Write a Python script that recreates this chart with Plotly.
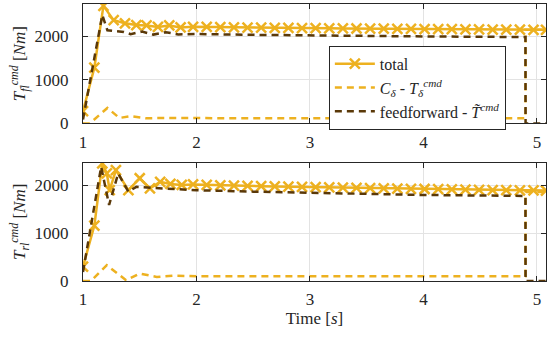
import plotly.graph_objects as go

# ---------------- data ----------------
# front-left (top panel)
t_tot_fl = [1.00, 1.10, 1.18, 1.27, 1.37, 1.47, 1.56, 1.66, 1.76, 1.86, 1.97, 2.09, 2.21, 2.33,
            2.45, 2.57, 2.69, 2.81, 2.93, 3.05, 3.17, 3.29, 3.41, 3.53, 3.65, 3.77, 3.89, 4.01,
            4.13, 4.25, 4.37, 4.49, 4.61, 4.73, 4.85, 4.97, 5.08]
total_fl = [280, 1280, 2700, 2370, 2300, 2260, 2250, 2215, 2250, 2205, 2220, 2215, 2210, 2205,
            2200, 2198, 2195, 2192, 2190, 2188, 2185, 2182, 2180, 2178, 2175, 2172, 2170, 2168,
            2165, 2163, 2160, 2158, 2156, 2154, 2152, 2150, 2150]
t_cd_fl = [1.00, 1.06, 1.215, 1.32, 1.42, 1.55, 1.70, 1.90, 2.20, 3.00, 4.00, 4.899, 4.90, 5.08]
cdelta_fl = [0, 0, 355, 125, 165, 118, 125, 120, 120, 118, 118, 118, 2150, 2150]
t_ff_fl = [1.00, 1.17, 1.215, 1.29, 1.36, 1.42, 1.52, 1.62, 1.73, 1.84, 2.00, 2.50, 3.20, 4.00,
           4.899, 4.90, 5.08]
ff_fl = [90, 2490, 2140, 2125, 2100, 2050, 2110, 2040, 2095, 2045, 2053, 2035, 2014, 1998,
         1984, 0, 0]

# rear-left (bottom panel)
t_tot_rl = [1.00, 1.10, 1.17, 1.21, 1.235, 1.29, 1.40, 1.50, 1.59, 1.68, 1.77, 1.87, 1.97, 2.09,
            2.21, 2.33, 2.45, 2.57, 2.69, 2.81, 2.93, 3.05, 3.17, 3.29, 3.41, 3.53, 3.65, 3.77,
            3.89, 4.01, 4.13, 4.25, 4.37, 4.49, 4.61, 4.73, 4.85, 4.97, 5.08]
total_rl = [300, 1160, 2460, 2250, 1900, 2320, 1900, 2150, 1940, 2075, 2030, 2010, 2020, 2010,
            2000, 1995, 1990, 1985, 1980, 1975, 1970, 1965, 1960, 1955, 1950, 1945, 1940, 1935,
            1930, 1925, 1920, 1915, 1910, 1905, 1902, 1900, 1898, 1895, 1892]
t_cd_rl = [1.00, 1.07, 1.21, 1.38, 1.50, 1.65, 1.80, 2.00, 3.00, 4.00, 4.899, 4.90, 5.08]
cdelta_rl = [0, 0, 330, 15, 155, 85, 110, 100, 100, 98, 98, 1860, 1860]
t_ff_rl = [1.00, 1.16, 1.23, 1.31, 1.40, 1.47, 1.60, 1.80, 2.00, 2.50, 3.20, 4.00, 4.899, 4.90, 5.08]
ff_rl = [190, 2390, 1590, 2250, 1870, 1970, 1950, 1930, 1900, 1870, 1835, 1800, 1780, 0, 0]

x_ticks = [1, 2, 3, 4, 5]
y_ticks = [0, 1000, 2000]

names = ["total",
         "<i>C</i><sub><i>δ</i></sub> - <i>T</i><sub><i>δ</i></sub><sup><i>cmd</i></sup>",
         "feedforward - <i>T̃</i><sup><i>cmd</i></sup>"]

# ---------------- style ----------------
YEL = "#EDB120"
BRN = "#5A3808"
FONT = "Liberation Serif"
DASH = "7px,5px"
FS = 17

fig = go.Figure()

panels = [
    ("x", "y", t_tot_fl, total_fl, t_cd_fl, cdelta_fl, t_ff_fl, ff_fl, True),
    ("x2", "y2", t_tot_rl, total_rl, t_cd_rl, cdelta_rl, t_ff_rl, ff_rl, False),
]
for xa, ya, tt, tv, tc, cv, tf, fv, show in panels:
    fig.add_trace(go.Scatter(x=tt, y=tv, mode="lines+markers", name=names[0],
                             line=dict(color=YEL, width=2.5),
                             marker=dict(symbol="x-thin", size=10, color=YEL,
                                         line=dict(color=YEL, width=2.5)),
                             xaxis=xa, yaxis=ya, showlegend=show))
    fig.add_trace(go.Scatter(x=tc, y=cv, mode="lines", name=names[1],
                             line=dict(color=YEL, width=2.5, dash=DASH),
                             xaxis=xa, yaxis=ya, showlegend=show))
    fig.add_trace(go.Scatter(x=tf, y=fv, mode="lines", name=names[2],
                             line=dict(color=BRN, width=2.5, dash=DASH),
                             xaxis=xa, yaxis=ya, showlegend=show))

axcommon = dict(showline=True, linecolor="#262626", linewidth=1, mirror="ticks",
                ticks="inside", ticklen=5, tickcolor="#262626",
                showgrid=True, gridcolor="#e3e3e3", gridwidth=1, zeroline=False,
                tickfont=dict(family=FONT, size=FS, color="#262626"))

fig.update_layout(
    width=556, height=339,
    margin=dict(l=83, r=10, t=4, b=58),
    paper_bgcolor="white", plot_bgcolor="white",
    font=dict(family=FONT, size=FS, color="#262626"),
    xaxis=dict(domain=[0, 1], anchor="y", range=[1, 5.08], tickvals=x_ticks,
               ticklabelstandoff=3, **axcommon),
    yaxis=dict(domain=[0.569, 1], anchor="x", range=[0, 2743], tickvals=y_ticks,
               ticklabelstandoff=10,
               title=dict(text="<i>T</i><sub><i>fl</i></sub><sup><i>cmd</i></sup> [<i>Nm</i>]",
                          standoff=4, font=dict(family=FONT, size=FS)),
               **axcommon),
    xaxis2=dict(domain=[0, 1], anchor="y2", range=[1, 5.08], tickvals=x_ticks,
                ticklabelstandoff=3,
                title=dict(text="Time [<i>s</i>]", standoff=2, font=dict(family=FONT, size=FS)),
                **axcommon),
    yaxis2=dict(domain=[0, 0.427], anchor="x2", range=[0, 2475], tickvals=y_ticks,
                ticklabelstandoff=10,
                title=dict(text="<i>T</i><sub><i>rl</i></sub><sup><i>cmd</i></sup> [<i>Nm</i>]",
                           standoff=4, font=dict(family=FONT, size=FS)),
                **axcommon),
    legend=dict(x=0.531, y=0.849, xanchor="left", yanchor="top",
                bgcolor="white", bordercolor="#262626", borderwidth=1,
                font=dict(family=FONT, size=16, color="#262626"),
                tracegroupgap=0, itemwidth=40),
)

fig.write_html("out.html")
